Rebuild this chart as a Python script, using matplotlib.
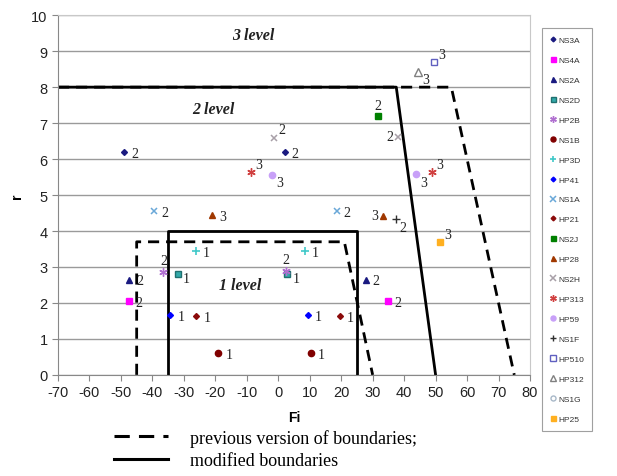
import matplotlib
matplotlib.use("Agg")
import matplotlib.pyplot as plt
from matplotlib.lines import Line2D

plt.rcParams["axes.unicode_minus"] = False

# series
names = ["NS3A", "NS4A", "NS2A", "NS2D", "HP2B", "NS1B", "HP3D", "HP41", "NS1A", "HP21",
         "NS2J", "HP28", "NS2H", "HP313", "HP59", "NS1F", "HP510", "HP312", "NS1G", "HP25"]
fi_vals = [[-49, 2], [-47.5, 34.8], [-47.3, 27.8], [-32, 2.8], [-36.5, 2.3], [-19, 10.3],
           [-26.3, 8.4], [-34.3, 9.5], [-39.4, 18.6], [-26, 19.5], [31.6], [-21, 33.4],
           [-1.3, 38.2], [-8.6, 48.9], [-1.9, 43.8], [37.3], [49.6], [44.3], [], [51.4]]
r_vals = [[6.2, 6.2], [2.05, 2.05], [2.65, 2.65], [2.8, 2.8], [2.87, 2.9], [0.6, 0.6],
          [3.45, 3.45], [1.67, 1.67], [4.55, 4.55], [1.63, 1.63], [7.2], [4.45, 4.43],
          [6.6, 6.62], [5.64, 5.64], [5.56, 5.58], [4.33], [8.7], [8.43], [], [3.69]]
levels = [["2", "2"], ["2", "2"], ["2", "2"], ["1", "1"], ["2", "2"], ["1", "1"],
          ["1", "1"], ["1", "1"], ["2", "2"], ["1", "1"], ["2"], ["3", "3"],
          ["2", "2"], ["3", "3"], ["3", "3"], ["2"], ["3"], ["3"], [], ["3"]]

# boundaries
old_outer_x = [-70, 55, 75]
old_outer_y = [8, 8, 0]
new_outer_x = [-70, 37.5, 50]
new_outer_y = [8, 8, 0]
old_inner_x = [-45, -45, 21, 30]
old_inner_y = [0, 3.7, 3.7, 0]
new_inner_x = [-35, -35, 25, 25]
new_inner_y = [0, 4, 4, 0]

# marker styles
styles = [
    dict(marker="D", color="#1a1a80", ms=3),
    dict(marker="s", color="#ff00ff", ms=4.5),
    dict(marker="^", color="#1a1a80", ms=4.5),
    dict(marker="s", color="#33aaaa", ms=4.5, mec="#207070"),
    dict(marker=(6, 2, 0), color="#b070d0", ms=6, mew=1),
    dict(marker="o", color="#800000", ms=4.5),
    dict(marker="+", color="#40c8c8", ms=6, mew=1.2),
    dict(marker="D", color="#0000ff", ms=3),
    dict(marker="x", color="#6aa8d8", ms=5, mew=1.1),
    dict(marker="D", color="#8b0a0a", ms=3),
    dict(marker="s", color="#008000", ms=4.5),
    dict(marker="^", color="#a03800", ms=4.5),
    dict(marker="x", color="#a8a0a8", ms=5, mew=1.1),
    dict(marker=(6, 2, 0), color="#d04040", ms=6, mew=1),
    dict(marker="o", color="#c8a0f8", ms=4.5),
    dict(marker="+", color="#303030", ms=6, mew=1),
    dict(marker="s", color="#6060c0", ms=5, mfc="none"),
    dict(marker="^", color="#808080", ms=5.5, mfc="none"),
    dict(marker="o", color="#a8b8c8", ms=4.5, mfc="none"),
    dict(marker="s", color="#ffb020", ms=4.5),
]

# label placement around each point
offsets = {"r": ((5, -1), "left", "center"), "u": ((0, 3), "center", "bottom"),
           "ur": ((3, 1), "left", "bottom"), "dr": ((3, -1), "left", "top"),
           "l": ((-4, 0), "right", "center"), "rd": ((4, -3), "left", "center")}
placement = [["r", "r"], ["r", "r"], ["r", "r"], ["rd", "rd"], ["u", "u"], ["r", "r"],
             ["r", "r"], ["r", "r"], ["r", "r"], ["r", "r"], ["u"], ["r", "l"],
             ["ur", "l"], ["ur", "ur"], ["dr", "dr"], ["dr"], ["ur"], ["dr"], [], ["ur"]]

fig = plt.figure(figsize=(6.17, 4.77), dpi=100)
ax = fig.add_axes([0.094, 0.212, 0.765, 0.754])

ax.set_xlim(-70, 80)
ax.set_ylim(0, 10)
ax.set_xticks(range(-70, 81, 10))
ax.set_yticks(range(0, 11))
ax.yaxis.grid(True, color="#9a9a9a", lw=1)
ax.set_axisbelow(True)
for s in ["left", "bottom"]:
    ax.spines[s].set_color("#888888")
for s in ["top", "right"]:
    ax.spines[s].set_color("#c8c8c8")
ax.tick_params(colors="#888888", direction="out", length=4, labelcolor="#222222",
               labelsize=10.5)
for lab in ax.get_xticklabels() + ax.get_yticklabels():
    lab.set_family("Liberation Sans")

dash = (0, (4, 2.5))
ax.plot(old_outer_x, old_outer_y, color="black", lw=2, ls=dash)
ax.plot(old_inner_x, old_inner_y, color="black", lw=2, ls=dash)
ax.plot(new_outer_x, new_outer_y, color="black", lw=2)
ax.plot(new_inner_x, new_inner_y, color="black", lw=2)

for name, xs, ys, lv, st, pl in zip(names, fi_vals, r_vals, levels, styles, placement):
    ax.plot(xs, ys, ls="none", label=name, **st)
    for x, y, t, p in zip(xs, ys, lv, pl):
        off, ha, va = offsets[p]
        ax.annotate(t, (x, y), xytext=off, textcoords="offset points", ha=ha, va=va,
                    fontsize=10, family="Liberation Serif", color="#222222")

lvl_font = dict(fontsize=11.5, family="Liberation Serif", style="italic",
                weight="bold", color="#222222", ha="center", va="center")
ax.text(-8, 9.45, "3 level", **lvl_font)
ax.text(-20.5, 7.4, "2 level", **lvl_font)
ax.text(-12, 2.5, "1 level", **lvl_font)

ax.set_xlabel("Fi", fontsize=10, weight="bold", family="Liberation Sans", labelpad=8)
ax.set_ylabel("r", fontsize=10, weight="bold", family="Liberation Sans", labelpad=5)

leg = fig.legend(*ax.get_legend_handles_labels(), loc="upper left",
                 bbox_to_anchor=(0.872, 0.948), prop={"family": "Liberation Sans", "size": 6},
                 labelspacing=1.45, handlelength=0.7, handletextpad=0.2,
                 borderpad=1.0, fancybox=False, edgecolor="#888888", markerscale=0.8)
leg.get_frame().set_linewidth(0.8)
for t in leg.get_texts():
    t.set_color("#333333")

bound_handles = [Line2D([], [], color="black", lw=2.2, ls=(0, (5, 3))),
                 Line2D([], [], color="black", lw=2.2)]
fig.legend(bound_handles, ["previous version of boundaries;", "modified boundaries"],
           loc="upper left", bbox_to_anchor=(0.17, 0.118), frameon=False,
           prop={"family": "Liberation Serif", "size": 13}, handlelength=3.0,
           labelspacing=0.3, handletextpad=1.2, borderpad=0)

fig.savefig("out.png", dpi=100)
